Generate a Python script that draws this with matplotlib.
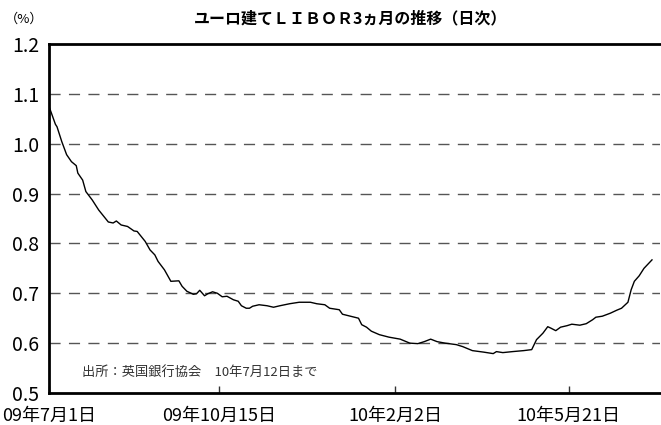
import matplotlib
matplotlib.use("Agg")
import matplotlib.pyplot as plt
import pandas as pd

plt.rcParams["font.family"] = ["Noto Sans CJK JP", "DejaVu Sans"]

# daily Euro LIBOR 3M
DATES = [
    "2009-07-01", "2009-07-05", "2009-07-06", "2009-07-09", "2009-07-12",
    "2009-07-15", "2009-07-18", "2009-07-19", "2009-07-22", "2009-07-24",
    "2009-07-28", "2009-08-01", "2009-08-05", "2009-08-07", "2009-08-10",
    "2009-08-12", "2009-08-15", "2009-08-19", "2009-08-23", "2009-08-25",
    "2009-08-28", "2009-08-30", "2009-09-02", "2009-09-05", "2009-09-07",
    "2009-09-11", "2009-09-15", "2009-09-20", "2009-09-22", "2009-09-25",
    "2009-09-29", "2009-10-01", "2009-10-03", "2009-10-06", "2009-10-08",
    "2009-10-11", "2009-10-14", "2009-10-17", "2009-10-20", "2009-10-24",
    "2009-10-27", "2009-10-29", "2009-11-01", "2009-11-03", "2009-11-05",
    "2009-11-09", "2009-11-14", "2009-11-18", "2009-11-22", "2009-11-28",
    "2009-12-04", "2009-12-11", "2009-12-15", "2009-12-20", "2009-12-23",
    "2009-12-29", "2009-12-31", "2010-01-05", "2010-01-10", "2010-01-12",
    "2010-01-15", "2010-01-18", "2010-01-23", "2010-01-29", "2010-02-05",
    "2010-02-11", "2010-02-16", "2010-02-20", "2010-02-24", "2010-02-28",
    "2010-03-05", "2010-03-12", "2010-03-16", "2010-03-22", "2010-03-29",
    "2010-04-04", "2010-04-06", "2010-04-10", "2010-04-16", "2010-04-23",
    "2010-04-28", "2010-05-01", "2010-05-05", "2010-05-08", "2010-05-10",
    "2010-05-13", "2010-05-16", "2010-05-20", "2010-05-23", "2010-05-28",
    "2010-06-01", "2010-06-05", "2010-06-07", "2010-06-11", "2010-06-16",
    "2010-06-20", "2010-06-23", "2010-06-27", "2010-06-29", "2010-07-01",
    "2010-07-04", "2010-07-07", "2010-07-12",
]
RATES = [
    1.075, 1.039, 1.034, 1.004, 0.978,
    0.964, 0.956, 0.941, 0.927, 0.904,
    0.887, 0.867, 0.851, 0.843, 0.841,
    0.845, 0.837, 0.834, 0.825, 0.824,
    0.812, 0.804, 0.787, 0.777, 0.764,
    0.747, 0.724, 0.725, 0.714, 0.704,
    0.698, 0.699, 0.706, 0.695, 0.699,
    0.703, 0.700, 0.693, 0.694, 0.687,
    0.684, 0.675, 0.670, 0.670, 0.674,
    0.677, 0.675, 0.672, 0.675, 0.679,
    0.682, 0.682, 0.679, 0.677, 0.670,
    0.667, 0.658, 0.654, 0.650, 0.637,
    0.632, 0.624, 0.617, 0.612, 0.608,
    0.600, 0.599, 0.603, 0.608, 0.603,
    0.600, 0.597, 0.593, 0.585, 0.582,
    0.579, 0.583, 0.581, 0.583, 0.585,
    0.587, 0.607, 0.620, 0.633, 0.630,
    0.625, 0.632, 0.635, 0.638, 0.636,
    0.639, 0.647, 0.652, 0.654, 0.660,
    0.666, 0.670, 0.682, 0.707, 0.724,
    0.735, 0.750, 0.767,
]

TICK_DATES = ["2009-07-01", "2009-10-15", "2010-02-02", "2010-05-21"]
TICK_LABELS = ["09年7月1日", "09年10月15日", "10年2月2日", "10年5月21日"]
Y_TICKS = [0.5, 0.6, 0.7, 0.8, 0.9, 1.0, 1.1, 1.2]

dates = pd.to_datetime(DATES)

fig = plt.figure(figsize=(6.61, 4.25), dpi=100)
ax = fig.add_axes([0.0741, 0.0753, 0.9244, 0.8212])

ax.plot(dates, RATES, color="black", linewidth=1.0)

ax.set_ylim(0.5, 1.2)
ax.set_xlim(pd.Timestamp("2009-07-01"), pd.Timestamp("2010-07-17"))

for y in Y_TICKS[1:-1]:
    ax.axhline(y, color="#555555", linewidth=1.0, dashes=(8, 6), zorder=0)

ax.set_yticks(Y_TICKS)
ax.set_yticklabels([f"{v:.1f}" for v in Y_TICKS], fontsize=14)
ax.tick_params(axis="y", length=0, pad=7)

ax.set_xticks(pd.to_datetime(TICK_DATES))
ax.set_xticklabels(TICK_LABELS, fontsize=13)
ax.tick_params(axis="x", direction="in", length=5, width=1, pad=10,
               color="#333333")

for side in ["left", "bottom", "top"]:
    ax.spines[side].set_linewidth(2)
ax.spines["right"].set_visible(False)

fig.text(0.53, 0.957, "ユーロ建てＬＩＢＯＲ3ヵ月の推移（日次）",
         ha="center", va="center", fontsize=11.5, fontweight="bold")
fig.text(0.008, 0.955, "（%）", ha="left", va="center", fontsize=9.5)

ax.text(0.054, 0.06, "出所：英国銀行協会　10年7月12日まで",
        transform=ax.transAxes, ha="left", va="center", fontsize=9.5,
        color="#333333")

fig.savefig("out.png", dpi=100)
